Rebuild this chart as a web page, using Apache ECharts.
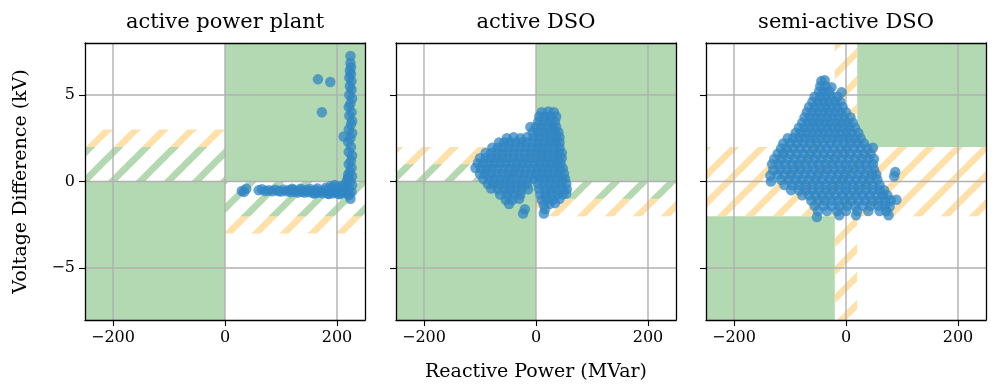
<!DOCTYPE html>
<html>
<head>
<meta charset="utf-8">
<script src="https://cdn.jsdelivr.net/npm/echarts@6/dist/echarts.min.js"></script>
<style>
  html, body { margin: 0; padding: 0; background: #fff; }
  #chart { width: 997px; height: 391px; }
</style>
</head>
<body>
<div id="chart"></div>
<script>
// ---------------- data ----------------
const panelTitles = ['active power plant', 'active DSO', 'semi-active DSO'];
const xTicks = [-200, 0, 200];
const yTicks = [-5, 0, 5];
const xRange = [-250, 250];
const yRange = [-8, 8];

// regions: [x1, x2, y1, y2]
const plantGreen = [[0, 250, 0, 8], [-250, 0, -8, 0]];
const plantOrangeHatch = [[-250, 0, 0, 3], [0, 250, -3, 0]];
const plantGreenHatch = [[-250, 0, 0, 2], [0, 250, -2, 0]];

const activeGreen = [[0, 250, 0, 8], [-250, 0, -8, 0]];
const activeOrangeHatch = [[-250, 0, 0, 2], [0, 250, -2, 0]];
const activeGreenHatch = [[-250, 0, 0, 1], [0, 250, -1, 0]];

const semiGreen = [[20, 250, 2, 8], [-250, -20, -8, -2]];
const semiOrangeHatch = [[-250, 250, -2, 2], [-20, 20, -8, 8]];
const semiGreenHatch = [];

// scatter points [reactive power MVar, voltage difference kV]
const plantPoints = [
  [30,-0.55],[38,-0.42],[34,-0.6],[60,-0.5],[66,-0.45],[72,-0.55],[78,-0.5],[84,-0.56],[90,-0.48],[95,-0.55],
  [100,-0.58],[104,-0.46],[110,-0.57],[114,-0.5],[118,-0.62],[122,-0.48],[126,-0.58],[130,-0.64],[134,-0.5],[138,-0.6],
  [142,-0.64],[146,-0.48],[150,-0.62],[154,-0.55],[158,-0.66],[162,-0.5],[166,-0.64],[170,-0.58],[174,-0.68],[178,-0.5],
  [182,-0.64],[186,-0.7],[190,-0.55],[194,-0.68],[198,-0.6],[202,-0.7],[206,-0.5],[210,-0.66],[214,-0.56],[218,-0.68],
  [120,-0.42],[135,-0.42],[152,-0.44],[165,-0.4],[180,-0.36],[192,-0.38],[200,-0.3],[208,-0.26],[214,-0.2],[160,-0.7],
  [185,-0.72],[205,-0.74],[196,-0.2],[188,-0.28],
  [217,-0.05],[219,0.15],[220,0.4],
  [222,-0.78],[226,-0.6],[221,-0.4],[227,-0.2],[224,0],[220,0.2],[227,0.3],[223,0.55],[226,0.8],[221,1.0],
  [225,1.2],[227,1.5],[221,1.7],[225,2.0],[220,2.3],[224,2.5],[227,2.8],[221,3.0],[225,3.3],[227,3.5],
  [222,3.8],[226,4.0],[221,4.3],[224,4.5],[227,4.8],[222,5.0],[226,5.3],[223,5.5],[226,5.8],[222,6.0],
  [225,6.2],[223,6.4],[225,6.6],[224,6.85],[224,7.25],[212,2.6],
  [166,5.9],[188,5.75],[173,4.0],[224,-1.0]
];

const activePoints = [
  [10,4.0],[22,4.05],[32,4.0],
  [6,3.75],[16,3.75],[26,3.75],[36,3.75],
  [4,3.45],[14,3.45],[24,3.45],[34,3.45],
  [-10,3.15],[0,3.15],[10,3.15],[20,3.15],[30,3.15],[36,3.15],
  [-6,2.85],[4,2.85],[14,2.85],[24,2.85],[34,2.85],[40,2.85],
  [-52,2.5],[-40,2.55],[-28,2.5],[-16,2.55],[-4,2.55],[6,2.55],[16,2.55],[26,2.55],[36,2.55],[42,2.55],
  [-66,2.25],[-56,2.25],[-46,2.25],[-36,2.25],[-26,2.25],[-16,2.25],[-6,2.25],[4,2.25],[14,2.25],[24,2.25],[34,2.25],[42,2.25],
  [-78,1.95],[-68,1.95],[-58,1.95],[-48,1.95],[-38,1.95],[-28,1.95],[-18,1.95],[-8,1.95],[2,1.95],[12,1.95],[22,1.95],[32,1.95],[42,1.95],
  [-90,1.65],[-80,1.65],[-70,1.65],[-60,1.65],[-50,1.65],[-40,1.65],[-30,1.65],[-20,1.65],[-10,1.65],[0,1.65],[10,1.65],[20,1.65],[30,1.65],[40,1.65],[46,1.65],
  [-100,1.35],[-90,1.35],[-80,1.35],[-70,1.35],[-60,1.35],[-50,1.35],[-40,1.35],[-30,1.35],[-20,1.35],[-10,1.35],[0,1.35],[10,1.35],[20,1.35],[30,1.35],[40,1.35],[46,1.35],
  [-104,1.05],[-94,1.05],[-84,1.05],[-74,1.05],[-64,1.05],[-54,1.05],[-44,1.05],[-34,1.05],[-24,1.05],[-14,1.05],[-4,1.05],[6,1.05],[16,1.05],[26,1.05],[36,1.05],[44,1.05],
  [-108,0.78],[-98,0.75],[-88,0.75],[-78,0.75],[-68,0.75],[-58,0.75],[-48,0.75],[-38,0.75],[-28,0.75],[-18,0.75],[-8,0.75],[2,0.75],[12,0.75],[22,0.75],[32,0.75],[42,0.75],[48,0.75],
  [-100,0.45],[-90,0.45],[-80,0.45],[-70,0.45],[-60,0.45],[-50,0.45],[-40,0.45],[-30,0.45],[-20,0.45],[-10,0.45],[0,0.45],[10,0.45],[20,0.45],[30,0.45],[40,0.45],[50,0.45],
  [-94,0.15],[-84,0.15],[-74,0.15],[-64,0.15],[-54,0.15],[-44,0.15],[-34,0.15],[-24,0.15],[-14,0.15],[-4,0.15],[6,0.15],[16,0.15],[26,0.15],[36,0.15],[46,0.15],[52,0.15],
  [-86,-0.15],[-76,-0.15],[-66,-0.15],[-56,-0.15],[-46,-0.15],[-36,-0.15],[-26,-0.15],[-16,-0.15],[4,-0.15],[14,-0.15],[24,-0.15],[34,-0.15],[44,-0.15],[54,-0.15],
  [-80,-0.4],[-68,-0.45],[-56,-0.45],[-46,-0.45],[-36,-0.45],[-26,-0.45],[-14,-0.45],[6,-0.45],[16,-0.45],[26,-0.45],[36,-0.45],[46,-0.45],[55,-0.45],
  [-64,-0.75],[-52,-0.75],[-40,-0.75],[-28,-0.75],[8,-0.75],[18,-0.75],[28,-0.75],[38,-0.75],[48,-0.75],[54,-0.7],
  [-54,-1.05],[-42,-1.05],[-30,-1.0],[10,-1.05],[20,-1.05],[30,-1.05],[42,-1.0],
  [-48,-1.3],[14,-1.35],[24,-1.3],[34,-1.25],
  [-20,-1.6],[16,-1.6],
  [-23,-1.85],[14,-1.85]
];

const semiPoints = [
  [-44,5.8],[-38,5.85],
  [-46,5.5],[-36,5.5],[-26,5.45],
  [-48,5.2],[-40,5.2],[-30,5.2],[-8,5.15],
  [-56,4.9],[-46,4.9],[-36,4.9],[-26,4.9],[-16,4.9],
  [-60,4.6],[-50,4.6],[-40,4.6],[-30,4.6],[-20,4.6],[-10,4.6],
  [-66,4.3],[-56,4.3],[-46,4.3],[-36,4.3],[-26,4.3],[-16,4.3],[-6,4.3],
  [-70,4.0],[-60,4.0],[-50,4.0],[-40,4.0],[-30,4.0],[-20,4.0],[-10,4.0],[0,4.0],
  [-74,3.7],[-64,3.7],[-54,3.7],[-44,3.7],[-34,3.7],[-24,3.7],[-14,3.7],[-4,3.7],[8,3.7],
  [-78,3.4],[-68,3.4],[-58,3.4],[-48,3.4],[-38,3.4],[-28,3.4],[-18,3.4],[-8,3.4],[2,3.4],[12,3.4],
  [-84,3.1],[-74,3.1],[-64,3.1],[-54,3.1],[-44,3.1],[-34,3.1],[-24,3.1],[-14,3.1],[-4,3.1],[6,3.1],[16,3.1],
  [-90,2.8],[-80,2.8],[-70,2.8],[-60,2.8],[-50,2.8],[-40,2.8],[-30,2.8],[-20,2.8],[-10,2.8],[0,2.8],[10,2.8],[22,2.8],
  [-104,2.5],[-94,2.5],[-84,2.5],[-74,2.5],[-64,2.5],[-54,2.5],[-44,2.5],[-34,2.5],[-24,2.5],[-14,2.5],[-4,2.5],[6,2.5],[16,2.5],[26,2.5],
  [-112,2.2],[-100,2.2],[-88,2.2],[-76,2.2],[-64,2.2],[-52,2.2],[-40,2.2],[-28,2.2],[-16,2.2],[-4,2.2],[8,2.2],[20,2.2],[32,2.2],
  [-116,1.9],[-106,1.9],[-94,1.9],[-82,1.9],[-70,1.9],[-58,1.9],[-46,1.9],[-34,1.9],[-22,1.9],[-10,1.9],[2,1.9],[14,1.9],[26,1.9],[38,1.9],[48,1.95],
  [-122,1.6],[-112,1.6],[-100,1.6],[-88,1.6],[-76,1.6],[-64,1.6],[-52,1.6],[-40,1.6],[-28,1.6],[-16,1.6],[-4,1.6],[8,1.6],[20,1.6],[32,1.6],[44,1.6],
  [-128,1.3],[-116,1.3],[-104,1.3],[-92,1.3],[-80,1.3],[-68,1.3],[-56,1.3],[-44,1.3],[-32,1.3],[-20,1.3],[-8,1.3],[4,1.3],[16,1.3],[28,1.3],[40,1.3],[50,1.3],
  [-132,1.0],[-120,1.0],[-108,1.0],[-96,1.0],[-84,1.0],[-72,1.0],[-60,1.0],[-48,1.0],[-36,1.0],[-24,1.0],[-12,1.0],[0,1.0],[12,1.0],[24,1.0],[36,1.0],[48,1.0],
  [-130,0.65],[-118,0.7],[-106,0.7],[-94,0.7],[-82,0.7],[-70,0.7],[-58,0.7],[-46,0.7],[-34,0.7],[-22,0.7],[-10,0.7],[2,0.7],[14,0.7],[26,0.7],[38,0.7],[50,0.7],[88,0.55],
  [-135,0.35],[-122,0.4],[-110,0.4],[-98,0.4],[-86,0.4],[-74,0.4],[-62,0.4],[-50,0.4],[-38,0.4],[-26,0.4],[-14,0.4],[-2,0.4],[10,0.4],[22,0.4],[34,0.4],[46,0.4],[54,0.4],[86,0.3],
  [-134,0.0],[-116,0.1],[-102,0.1],[-90,0.1],[-78,0.1],[-66,0.1],[-54,0.1],[-42,0.1],[-30,0.1],[-18,0.1],[-6,0.1],[6,0.1],[18,0.1],[30,0.1],[42,0.1],[56,0.1],
  [-110,-0.2],[-96,-0.2],[-84,-0.2],[-72,-0.2],[-60,-0.2],[-48,-0.2],[-36,-0.2],[-24,-0.2],[-12,-0.2],[0,-0.2],[12,-0.2],[24,-0.2],[36,-0.2],[48,-0.2],[60,-0.2],
  [-98,-0.5],[-84,-0.5],[-72,-0.5],[-60,-0.5],[-48,-0.5],[-36,-0.5],[-24,-0.5],[-12,-0.5],[0,-0.5],[12,-0.5],[24,-0.5],[36,-0.5],[48,-0.5],[60,-0.5],[68,-0.5],
  [-78,-0.8],[-66,-0.8],[-54,-0.8],[-42,-0.8],[-30,-0.8],[-18,-0.8],[-6,-0.8],[6,-0.8],[18,-0.8],[30,-0.8],[42,-0.8],[54,-0.8],[66,-0.8],[74,-0.8],
  [-62,-1.1],[-50,-1.1],[-38,-1.1],[-26,-1.1],[-14,-1.1],[-2,-1.1],[10,-1.1],[22,-1.1],[34,-1.1],[46,-1.1],[58,-1.1],[70,-1.1],[80,-1.1],[90,-1.05],
  [-56,-1.4],[-40,-1.4],[-26,-1.4],[-12,-1.4],[2,-1.4],[16,-1.4],[30,-1.4],[44,-1.4],[58,-1.4],[70,-1.4],[78,-1.45],
  [-50,-1.7],[-34,-1.7],[-16,-1.7],[0,-1.7],[20,-1.7],[40,-1.7],[60,-1.7],[72,-1.7],
  [-52,-2.05],[-12,-1.95],[18,-1.95],[76,-1.95]
];

// ---------------- helpers ----------------
const FONT = '"DejaVu Serif", "Liberation Serif", serif';
const GREEN = '#b3d9b3';
const ORANGE = '#fee0a8';
const GRIDLINE = '#b0b0b0';

function makeHatch(color) {
  const S = 28, phase = 13.6;
  const c = document.createElement('canvas');
  c.width = S; c.height = S;
  const ctx = c.getContext('2d');
  ctx.strokeStyle = color;
  ctx.lineWidth = 6.6;
  for (let k = -1; k <= 2; k++) {
    const d = phase + k * S;
    ctx.beginPath();
    ctx.moveTo(-10, d + 10);
    ctx.lineTo(d + 10, -10);
    ctx.stroke();
  }
  return { image: c, repeat: 'repeat' };
}
const greenHatch = makeHatch(GREEN);
const orangeHatch = makeHatch(ORANGE);

const gridLefts = [85, 396, 706];
const gridTop = 43, gridW = 280, gridH = 277;

function fmt(v) { return v < 0 ? '\u2212' + Math.abs(v) : String(v); }

function rectSeries(i, data, fill, z) {
  return {
    type: 'custom', xAxisIndex: i, yAxisIndex: i, z: z, silent: true, clip: true,
    encode: { x: [0, 1], y: [2, 3] },
    data: data,
    renderItem: function (params, api) {
      const p1 = api.coord([api.value(0), api.value(3)]);
      const p2 = api.coord([api.value(1), api.value(2)]);
      return { type: 'rect', shape: { x: p1[0], y: p1[1], width: p2[0] - p1[0], height: p2[1] - p1[1] },
               style: { fill: fill, stroke: null } };
    }
  };
}

function gridLineSeries(i) {
  const data = [];
  xTicks.forEach(v => data.push([v, 0, 'v']));
  yTicks.forEach(v => data.push([0, v, 'h']));
  return {
    type: 'custom', xAxisIndex: i, yAxisIndex: i, z: 3, silent: true,
    encode: { x: 0, y: 1 },
    data: data,
    renderItem: function (params, api) {
      const cs = params.coordSys;
      const p = api.coord([api.value(0), api.value(1)]);
      const isV = data[params.dataIndex][2] === 'v';
      const shape = isV ? { x1: p[0], y1: cs.y, x2: p[0], y2: cs.y + cs.height }
                        : { x1: cs.x, y1: p[1], x2: cs.x + cs.width, y2: p[1] };
      return { type: 'line', shape: shape, style: { stroke: GRIDLINE, lineWidth: 1.4 } };
    }
  };
}

const grids = [], xAxes = [], yAxes = [], series = [];
const pointsArr = [plantPoints, activePoints, semiPoints];
const greens = [plantGreen, activeGreen, semiGreen];
const oranges = [plantOrangeHatch, activeOrangeHatch, semiOrangeHatch];
const gHatches = [plantGreenHatch, activeGreenHatch, semiGreenHatch];

for (let i = 0; i < 3; i++) {
  grids.push({ left: gridLefts[i], top: gridTop, width: gridW, height: gridH, containLabel: false, outerBoundsMode: 'none' });
}
for (let i = 0; i < 3; i++) {
  xAxes.push({
    gridIndex: i, type: 'value', min: xRange[0], max: xRange[1], interval: 50, position: 'bottom', z: 10,
    name: i === 1 ? 'Reactive Power (MVar)' : '', nameLocation: 'middle', nameGap: 43,
    nameTextStyle: { fontFamily: FONT, fontSize: 19, color: '#000' },
    axisLine: { show: true, onZero: false, lineStyle: { color: '#000', width: 1.3 } },
    axisTick: { show: true, length: 6, inside: false, customValues: xTicks, lineStyle: { color: '#000', width: 1.1 } },
    axisLabel: { show: true, customValues: xTicks, formatter: fmt, color: '#000', fontFamily: FONT, fontSize: 16, margin: 10 },
    splitLine: { show: false }
  });
}
for (let i = 0; i < 3; i++) {
  xAxes.push({
    gridIndex: i, type: 'value', min: xRange[0], max: xRange[1], interval: 50, position: 'top', z: 10,
    axisLine: { show: true, onZero: false, lineStyle: { color: '#000', width: 1.3 } },
    axisTick: { show: false }, axisLabel: { show: false }, splitLine: { show: false }
  });
}
for (let i = 0; i < 3; i++) {
  yAxes.push({
    gridIndex: i, type: 'value', min: yRange[0], max: yRange[1], interval: 1, position: 'left', z: 10,
    name: i === 0 ? 'Voltage Difference (kV)' : '', nameLocation: 'middle', nameGap: 54,
    nameTextStyle: { fontFamily: FONT, fontSize: 19, color: '#000' },
    axisLine: { show: true, onZero: false, lineStyle: { color: '#000', width: 1.3 } },
    axisTick: { show: true, length: 6, inside: false, customValues: yTicks, lineStyle: { color: '#000', width: 1.1 } },
    axisLabel: { show: i === 0, customValues: yTicks, formatter: fmt, color: '#000', fontFamily: FONT, fontSize: 16, margin: 10 },
    splitLine: { show: false }
  });
}
for (let i = 0; i < 3; i++) {
  yAxes.push({
    gridIndex: i, type: 'value', min: yRange[0], max: yRange[1], interval: 1, position: 'right', z: 10,
    axisLine: { show: true, onZero: false, lineStyle: { color: '#000', width: 1.3 } },
    axisTick: { show: false }, axisLabel: { show: false }, splitLine: { show: false }
  });
}
for (let i = 0; i < 3; i++) {
  series.push(rectSeries(i, greens[i], GREEN, 1));
  series.push(rectSeries(i, oranges[i], orangeHatch, 2));
  series.push(rectSeries(i, gHatches[i], greenHatch, 2));
  series.push(gridLineSeries(i));
  series.push({
    type: 'scatter', xAxisIndex: i, yAxisIndex: i, z: 4, silent: true,
    symbol: 'circle', symbolSize: 10.5,
    itemStyle: { color: 'rgb(48,133,195)', opacity: 0.75, borderWidth: 0 },
    data: pointsArr[i]
  });
}

const graphics = panelTitles.map((t, i) => ({
  type: 'text', x: gridLefts[i] + gridW / 2, y: 23, z: 20,
  style: { text: t, fontFamily: FONT, fontSize: 21, fill: '#000', align: 'center', verticalAlign: 'middle' }
}));

const chart = echarts.init(document.getElementById('chart'), null, { renderer: 'canvas' });
chart.setOption({
  animation: false,
  backgroundColor: '#fff',
  grid: grids,
  xAxis: xAxes,
  yAxis: yAxes,
  series: series,
  graphic: graphics
});
</script>
</body>
</html>
